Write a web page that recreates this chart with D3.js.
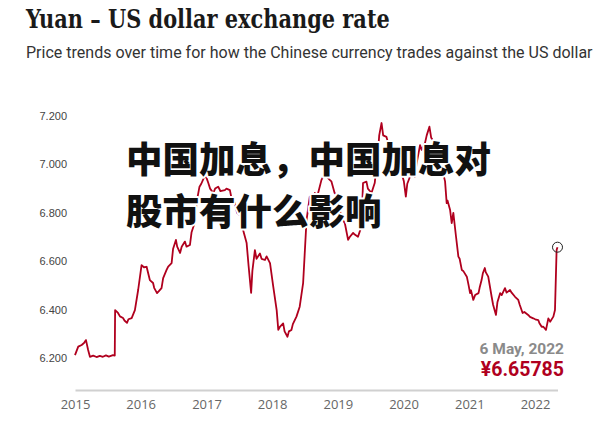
<!DOCTYPE html>
<html><head><meta charset="utf-8">
<script src="https://cdn.jsdelivr.net/npm/d3@7"></script>
<style>
html,body{margin:0;padding:0;background:#fff;}
svg{display:block;}
</style>
</head><body>
<svg id="chart" width="616" height="425"></svg>
<script>
const title = "Yuan – US dollar exchange rate";
const subtitle = "Price trends over time for how the Chinese currency trades against the US dollar";
const overlayLines = ["中国加息，中国加息对", "股市有什么影响"];
const lastLabelDate = "6 May, 2022";
const lastLabelValue = "¥6.65785";

const yTicks = [6.2, 6.4, 6.6, 6.8, 7.0, 7.2];
const xTickYears = [2015, 2016, 2017, 2018, 2019, 2020, 2021, 2022];

const dates = [
"2015-01-01","2015-01-19","2015-02-07","2015-02-20","2015-03-03","2015-03-15","2015-03-25","2015-04-12","2015-05-01","2015-05-19",
"2015-06-05","2015-06-22","2015-07-08","2015-07-31","2015-08-10","2015-08-12","2015-08-28","2015-09-08","2015-09-25","2015-10-03",
"2015-10-17","2015-10-25","2015-11-12","2015-11-30","2015-12-18","2016-01-06","2016-01-19","2016-02-03","2016-02-21","2016-03-10",
"2016-03-16","2016-04-01","2016-04-10","2016-04-26","2016-05-05","2016-05-24","2016-06-02","2016-06-21","2016-06-29","2016-07-15",
"2016-07-22","2016-08-07","2016-08-16","2016-09-03","2016-09-12","2016-10-01","2016-10-10","2016-10-30","2016-11-06","2016-11-23",
"2016-12-03","2016-12-24","2017-01-03","2017-01-11","2017-01-21","2017-02-08","2017-02-18","2017-03-07","2017-03-19","2017-04-13",
"2017-04-22","2017-05-11","2017-05-20","2017-06-08","2017-06-20","2017-07-15","2017-07-23","2017-08-12","2017-08-23","2017-09-06",
"2017-09-13","2017-09-27","2017-10-06","2017-10-25","2017-11-03","2017-11-22","2017-12-01","2017-12-20","2018-01-07","2018-01-26",
"2018-02-04","2018-02-14","2018-03-03","2018-03-11","2018-03-27","2018-04-04","2018-04-18","2018-04-26","2018-05-16","2018-06-03",
"2018-06-22","2018-07-11","2018-07-29","2018-08-07","2018-08-26","2018-09-06","2018-10-02","2018-10-21","2018-10-30","2018-11-17",
"2018-11-26","2018-12-14","2018-12-30","2019-01-12","2019-01-21","2019-02-09","2019-02-27","2019-03-08","2019-03-27","2019-04-05",
"2019-04-23","2019-05-12","2019-05-21","2019-06-09","2019-06-17","2019-07-07","2019-07-25","2019-08-13","2019-08-19","2019-09-01",
"2019-09-10","2019-09-28","2019-10-07","2019-10-26","2019-11-04","2019-11-23","2019-12-02","2019-12-21","2020-01-03","2020-01-14",
"2020-01-22","2020-02-06","2020-02-15","2020-03-04","2020-03-13","2020-04-02","2020-04-11","2020-04-30","2020-05-09","2020-05-24",
"2020-06-03","2020-06-24","2020-07-03","2020-07-22","2020-07-31","2020-08-19","2020-08-28","2020-09-02","2020-09-16","2020-09-25",
"2020-10-04","2020-10-19","2020-11-01","2020-11-08","2020-11-20","2020-11-28","2020-12-18","2020-12-28","2021-01-05","2021-01-10",
"2021-01-23","2021-02-02","2021-02-21","2021-02-27","2021-03-10","2021-03-17","2021-03-28","2021-04-02","2021-04-16","2021-04-22",
"2021-05-05","2021-05-13","2021-05-29","2021-06-06","2021-06-21","2021-06-30","2021-07-18","2021-07-27","2021-08-15","2021-08-24",
"2021-09-12","2021-09-30","2021-10-08","2021-10-24","2021-11-03","2021-11-24","2021-12-04","2021-12-22","2022-01-02","2022-01-19",
"2022-01-25","2022-02-07","2022-02-15","2022-03-03","2022-03-16","2022-03-26","2022-04-13","2022-04-22","2022-05-01","2022-05-06"
];
const rates = [
6.212,6.247,6.254,6.262,6.274,6.233,6.205,6.210,6.204,6.209,
6.205,6.211,6.206,6.212,6.210,6.398,6.386,6.372,6.365,6.355,
6.345,6.360,6.365,6.398,6.481,6.584,6.575,6.577,6.522,6.510,
6.490,6.468,6.475,6.489,6.530,6.564,6.578,6.592,6.650,6.688,
6.660,6.634,6.660,6.681,6.660,6.667,6.720,6.765,6.840,6.908,
6.920,6.956,6.940,6.923,6.900,6.882,6.900,6.908,6.890,6.894,
6.900,6.894,6.860,6.840,6.800,6.784,6.730,6.675,6.580,6.469,
6.560,6.646,6.610,6.632,6.610,6.605,6.620,6.592,6.495,6.398,
6.316,6.330,6.343,6.310,6.288,6.310,6.316,6.340,6.371,6.412,
6.509,6.770,6.867,6.840,6.882,6.860,6.936,6.962,6.950,6.936,
6.930,6.882,6.870,6.812,6.780,6.757,6.688,6.700,6.717,6.710,
6.701,6.743,6.923,6.929,6.900,6.882,6.923,7.060,7.120,7.171,
7.120,7.114,7.090,7.088,7.050,7.032,7.010,6.964,6.930,6.867,
6.920,6.949,6.980,6.949,7.000,7.080,7.060,7.090,7.120,7.156,
7.110,7.088,7.060,7.032,6.990,6.930,6.840,6.850,6.812,6.757,
6.800,6.701,6.619,6.610,6.564,6.560,6.536,6.500,6.468,6.480,
6.440,6.460,6.468,6.490,6.522,6.550,6.572,6.555,6.536,6.510,
6.453,6.420,6.378,6.430,6.468,6.460,6.489,6.470,6.481,6.470,
6.453,6.440,6.420,6.386,6.390,6.378,6.370,6.364,6.360,6.357,
6.345,6.329,6.330,6.316,6.364,6.350,6.371,6.398,6.646,6.65785
];

const parse = d3.timeParse("%Y-%m-%d");
const data = dates.map((d, i) => ({date: parse(d), value: rates[i]}));

const svg = d3.select("#chart");

const x = d3.scaleTime()
  .domain([parse("2015-01-01"), parse("2022-05-06")])
  .range([75, 557.5]);
const y = d3.scaleLinear().domain([6.2, 7.2]).range([358, 116]);

function fitText(sel, target) {
  const n = sel.node();
  const w = n.getComputedTextLength();
  const fs = parseFloat(sel.attr("font-size"));
  sel.attr("font-size", fs * target / w);
}

// Title: taller glyphs, squeezed horizontally via a transform to the reference width
const tg = svg.append("g");
const t = tg.append("text").attr("x", 0).attr("y", 0)
  .attr("font-family", "'DejaVu Serif', serif").attr("font-weight", 700)
  .attr("font-size", 26).attr("fill", "#1a1a1a").text(title);
const tw = t.node().getComputedTextLength();
tg.attr("transform", `translate(26,28) scale(${364 / tw},1)`);

const st = svg.append("text").attr("x", 26).attr("y", 58)
  .attr("font-family", "Roboto, sans-serif").attr("font-weight", 400)
  .attr("font-size", 15.5).attr("fill", "#333").text(subtitle);
fitText(st, 567);

// Y axis
const yAxis = svg.append("g").attr("transform", "translate(70,0)")
  .call(d3.axisLeft(y).tickValues(yTicks).tickSize(0).tickPadding(3).tickFormat(d3.format(".3f")));
yAxis.select(".domain").remove();
yAxis.selectAll("text").attr("font-family", "'Liberation Sans', Arial, sans-serif")
  .attr("font-size", 11).attr("fill", "#444");

// X axis
const xAxis = svg.append("g").attr("transform", "translate(0,390)")
  .call(d3.axisBottom(x).tickValues(xTickYears.map(yr => new Date(yr, 0, 1)))
    .tickSize(0).tickPadding(10).tickFormat(d3.timeFormat("%Y")));
xAxis.select(".domain").attr("stroke", "#d0d0d0").attr("stroke-width", 2);
xAxis.selectAll("text").attr("font-family", "'Open Sans', sans-serif")
  .attr("font-size", 13).attr("fill", "#666");

// Line
const line = d3.line().x(d => x(d.date)).y(d => y(d.value));
svg.append("path").datum(data).attr("d", line)
  .attr("fill", "none").attr("stroke", "#b0001e").attr("stroke-width", 1.8)
  .attr("stroke-linejoin", "round");

// End marker
const last = data[data.length - 1];
svg.append("circle").attr("cx", x(last.date)).attr("cy", y(last.value)).attr("r", 5)
  .attr("fill", "none").attr("stroke", "#222").attr("stroke-width", 1);

// Annotation
svg.append("text").attr("x", 564).attr("y", 354).attr("text-anchor", "end")
  .attr("font-family", "Roboto, sans-serif").attr("font-weight", 700)
  .attr("font-size", 15.5).attr("fill", "#8a8a8a").text(lastLabelDate);
svg.append("text").attr("x", 564).attr("y", 376).attr("text-anchor", "end")
  .attr("font-family", "Roboto, sans-serif").attr("font-weight", 700)
  .attr("font-size", 19.5).attr("fill", "#b0001e").text(lastLabelValue);

// Overlay text
overlayLines.forEach((s, i) => {
  svg.append("text").attr("x", 126).attr("y", 157 + i * 52)
    .attr("dominant-baseline", "central")
    .attr("font-family", "'Noto Sans CJK SC', sans-serif").attr("font-weight", 900)
    .attr("font-size", 36.5).attr("fill", "#111")
    .attr("stroke", "#fff").attr("stroke-width", 4).attr("paint-order", "stroke")
    .attr("stroke-linejoin", "round")
    .text(s);
});
</script>
</body></html>
